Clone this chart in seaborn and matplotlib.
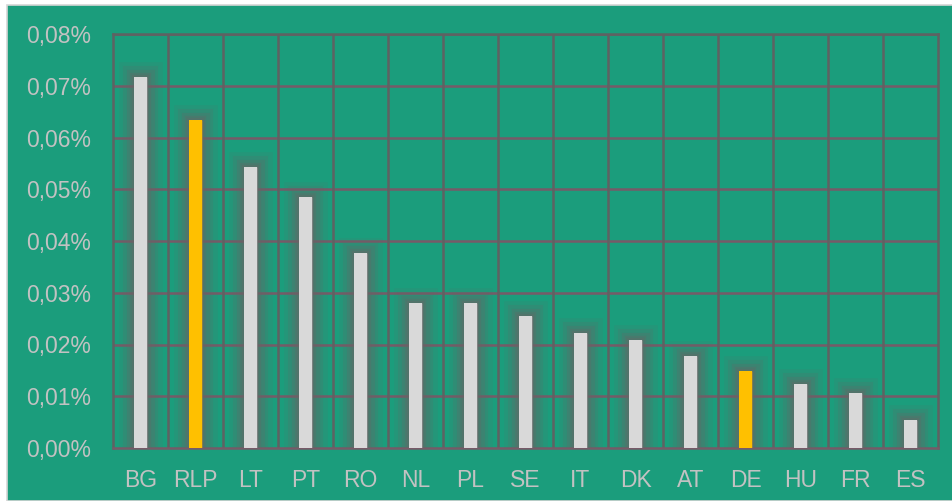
import numpy as np
import pandas as pd
import matplotlib.pyplot as plt
import matplotlib.patheffects as pe
from matplotlib.patches import Rectangle
from matplotlib.ticker import FuncFormatter, MultipleLocator
import seaborn as sns

countries = ["BG", "RLP", "LT", "PT", "RO", "NL", "PL", "SE", "IT", "DK", "AT", "DE", "HU", "FR", "ES"]
share = [0.0717, 0.0634, 0.0543, 0.0485, 0.0377, 0.0280, 0.0280, 0.0255, 0.0222, 0.0209,
         0.0178, 0.0149, 0.0124, 0.0106, 0.0054]
highlight = ["RLP", "DE"]

GREEN = "#1b9d7c"
df = pd.DataFrame({"country": countries, "share": share})
df["kind"] = ["hl" if c in highlight else "other" for c in countries]

sns.set_style("white")
plt.rcParams["font.family"] = ["Liberation Sans", "DejaVu Sans"]

fig = plt.figure(figsize=(9.52, 5.01), dpi=100, facecolor="white")
# background frame
fig.patches.append(Rectangle((7 / 952, 0), 1, 1 - 5 / 501, transform=fig.transFigure,
                             facecolor=GREEN, edgecolor="#d6d6d6", linewidth=1.2, zorder=-10))
ax = fig.add_axes([113 / 952, 1 - 448 / 501, (938 - 113) / 952, (448 - 34) / 501])
ax.set_facecolor(GREEN)

sns.barplot(data=df, x="country", y="share", hue="kind",
            palette={"hl": "#ffc000", "other": "#d9d9d9"}, width=0.25, saturation=1,
            dodge=False, legend=False, ax=ax, zorder=3, linewidth=0)

# soft grey glow around the bars
shade = (0.40, 0.40, 0.40)
glow = [pe.withStroke(linewidth=w, foreground=shade + (a,)) for w, a in
        [(22, 0.12), (16, 0.18), (11, 0.24), (6, 0.3), (3, 0.35)]]
for p in ax.patches:
    p.set_path_effects(glow + [pe.Normal()])

ax.set_xlim(-0.5, len(countries) - 0.5)
ax.set_ylim(0, 0.08)
ax.yaxis.set_major_locator(MultipleLocator(0.01))
ax.yaxis.set_major_formatter(FuncFormatter(lambda v, _: f"{v:.2f}%".replace(".", ",")))

# grid
for y in np.arange(0.01, 0.081, 0.01):
    ax.axhline(y, color="#775a68", linewidth=1.8, zorder=1)
for x in np.arange(0.5, len(countries) - 0.5, 1):
    ax.axvline(x, color="#5e6262", linewidth=1.8, zorder=1.5)
for s in ax.spines.values():
    s.set_visible(True)
    s.set_color("#5e6262")
    s.set_linewidth(1.8)
ax.spines["bottom"].set_color("#775a68")

ax.set_xlabel("")
ax.set_ylabel("")
ax.tick_params(axis="both", length=0, labelsize=16.5, labelcolor="#c2c2c2")
ax.tick_params(axis="x", pad=15)
ax.tick_params(axis="y", pad=16)

fig.savefig("out.png", dpi=100, facecolor=fig.get_facecolor())
